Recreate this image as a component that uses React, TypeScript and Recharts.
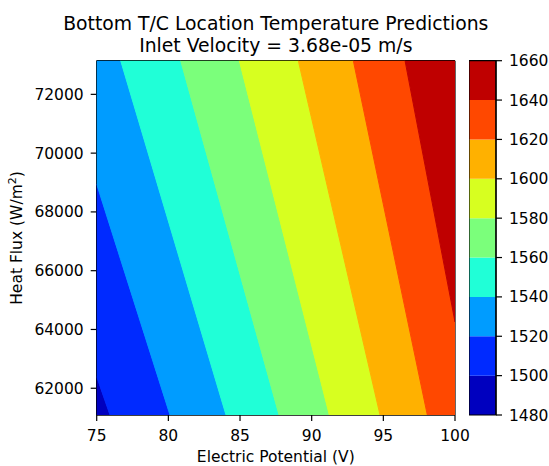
import React from 'react';
import { ScatterChart, Scatter, XAxis, YAxis, ReferenceLine, ReferenceArea } from 'recharts';

// ---- data ----
const xDomain: [number, number] = [75, 100];
const yDomain: [number, number] = [61090, 73145];
const xTicks = [75, 80, 85, 90, 95, 100];
const yTicks = [62000, 64000, 66000, 68000, 70000, 72000];
const levels = [1480, 1500, 1520, 1540, 1560, 1580, 1600, 1620, 1640, 1660];
const bandColors = ['#0000bf', '#002aff', '#009cff', '#20ffd7', '#7bff7b', '#d7ff20', '#ffb100', '#ff4800', '#bf0000'];

// Interior contour lines (levels 1500..1640): where each line enters (left/top edge)
// and where it leaves (bottom/right edge) the plotted region, in data units.
const contourStartX = [75, 75, 76.675, 80.862, 84.951, 89.068, 92.906, 96.514];
const contourStartY = [62395, 68946, 73145, 73145, 73145, 73145, 73145, 73145];
const contourEndX = [75.928, 80.115, 84.023, 87.722, 91.232, 94.77, 98.07, 100];
const contourEndY = [61090, 61090, 61090, 61090, 61090, 61090, 61090, 64258];

const FONT = 'DejaVu Sans, Liberation Sans, sans-serif';

type Pt = { x: number; y: number };

// position along the rectangle perimeter, clockwise from bottom-left corner
function perim(p: Pt): number {
  const [x0, x1] = xDomain;
  const [y0, y1] = yDomain;
  const W = x1 - x0;
  const H = y1 - y0;
  if (p.x === x0 && p.y < y1) return (p.y - y0) / H;
  if (p.y === y1) return 1 + (p.x - x0) / W;
  if (p.x === x1) return 2 + (y1 - p.y) / H;
  return 3 + (x1 - p.x) / W;
}
function corner(k: number): Pt {
  const [x0, x1] = xDomain;
  const [y0, y1] = yDomain;
  const m = ((k % 4) + 4) % 4;
  if (m === 0) return { x: x0, y: y0 };
  if (m === 1) return { x: x0, y: y1 };
  if (m === 2) return { x: x1, y: y1 };
  return { x: x1, y: y0 };
}
function walk(a: number, b: number): Pt[] {
  let end = b;
  if (end < a) end += 4;
  const out: Pt[] = [];
  for (let k = 1; k <= 8; k++) {
    if (k > a && k < end) out.push(corner(k));
  }
  return out;
}
const contourStart = (i: number): Pt => ({ x: contourStartX[i], y: contourStartY[i] });
const contourEnd = (i: number): Pt => ({ x: contourEndX[i], y: contourEndY[i] });

function bandPolygon(i: number): Pt[] {
  const n = contourStartX.length;
  if (i === 0) {
    const hs = contourStart(0), he = contourEnd(0);
    return [hs, he, ...walk(perim(he), perim(hs))];
  }
  if (i === n) {
    const ls = contourStart(n - 1), le = contourEnd(n - 1);
    return [ls, ...walk(perim(ls), perim(le)), le];
  }
  const ls = contourStart(i - 1), le = contourEnd(i - 1);
  const hs = contourStart(i), he = contourEnd(i);
  return [ls, ...walk(perim(ls), perim(hs)), hs, he, ...walk(perim(he), perim(le)), le];
}

const bands = levels.slice(0, -1).map((lo, i) => ({
  lo,
  hi: levels[i + 1],
  color: bandColors[i],
  points: bandPolygon(i),
}));

const colorbarPoints = levels.map((v) => ({ x: 0.5, v }));

const polygonLine = (color: string) => (props: any) => {
  const pts: { x: number; y: number }[] = props.points || [];
  const d = pts.map((p, j) => `${j ? 'L' : 'M'}${p.x},${p.y}`).join('') + 'Z';
  return <path d={d} fill={color} stroke={color} strokeWidth={1} strokeLinejoin="round" />;
};
const noShape = () => <g />;

const tickStyle = { fill: '#000', fontSize: 15.5, fontFamily: FONT };

export default function App() {
  return (
    <div style={{ position: 'absolute', left: 0, top: 0, width: 549, height: 466, background: '#fff' }}>
      <div style={{ position: 'absolute', left: 0, top: 0 }}>
        <ScatterChart width={549} height={466} margin={{ top: 60.7, right: 94, bottom: 21, left: 36.7 }}>
          <XAxis
            type="number"
            dataKey="x"
            domain={xDomain}
            ticks={xTicks}
            allowDataOverflow
            height={30}
            tickSize={6}
            tickMargin={9}
            tick={tickStyle}
            stroke="#000"
            axisLine={{ stroke: '#000', strokeWidth: 1.2 }}
            tickLine={{ stroke: '#000', strokeWidth: 1.2 }}
          />
          <YAxis
            type="number"
            dataKey="y"
            domain={yDomain}
            ticks={yTicks}
            allowDataOverflow
            width={60}
            tickSize={6}
            tickMargin={7}
            tick={tickStyle}
            stroke="#000"
            axisLine={{ stroke: '#000', strokeWidth: 1.2 }}
            tickLine={{ stroke: '#000', strokeWidth: 1.2 }}
          />
          {bands.map((b) => (
            <Scatter
              key={b.lo}
              data={b.points}
              fill={b.color}
              line={polygonLine(b.color)}
              lineType="joint"
              shape={noShape}
              isAnimationActive={false}
            />
          ))}
          <ReferenceLine x={xDomain[1]} stroke="#000" strokeWidth={1.2} ifOverflow="visible" />
          <ReferenceLine y={yDomain[1]} stroke="#000" strokeWidth={1.2} ifOverflow="visible" />
          <ReferenceLine x={xDomain[0]} stroke="#000" strokeWidth={1.2} ifOverflow="visible" />
          <ReferenceLine y={yDomain[0]} stroke="#000" strokeWidth={1.2} ifOverflow="visible" />
        </ScatterChart>
      </div>
      <div style={{ position: 'absolute', left: 469, top: 0 }}>
        <ScatterChart width={80} height={466} margin={{ top: 60.7, right: 0, bottom: 51, left: 0 }}>
          <XAxis type="number" dataKey="x" domain={[0, 1]} hide />
          <YAxis
            type="number"
            dataKey="v"
            orientation="right"
            domain={[levels[0], levels[levels.length - 1]]}
            ticks={levels}
            allowDataOverflow
            width={53}
            tickSize={6}
            tickMargin={7}
            tick={tickStyle}
            stroke="#000"
            axisLine={{ stroke: '#000', strokeWidth: 1.2 }}
            tickLine={{ stroke: '#000', strokeWidth: 1.2 }}
          />
          <Scatter data={colorbarPoints} shape={noShape} isAnimationActive={false} />
          {bands.map((b) => (
            <ReferenceArea key={b.lo} y1={b.lo} y2={b.hi} fill={b.color} fillOpacity={1} stroke="none" ifOverflow="visible" />
          ))}
          <ReferenceArea y1={levels[0]} y2={levels[levels.length - 1]} fill="none" stroke="#000" strokeWidth={1.2} ifOverflow="visible" />
        </ScatterChart>
      </div>
      <svg width={549} height={466} style={{ position: 'absolute', left: 0, top: 0, pointerEvents: 'none' }}>
        <text x={275.8} y={29.5} textAnchor="middle" fontFamily={FONT} fontSize={18.8} fill="#000">
          Bottom T/C Location Temperature Predictions
        </text>
        <text x={275.8} y={52} textAnchor="middle" fontFamily={FONT} fontSize={18.8} fill="#000">
          Inlet Velocity = 3.68e-05 m/s
        </text>
        <text x={275.8} y={462} textAnchor="middle" fontFamily={FONT} fontSize={15.5} fill="#000">
          Electric Potential (V)
        </text>
        <text x={22} y={238} textAnchor="middle" fontFamily={FONT} fontSize={15.5} fill="#000" transform="rotate(-90 22 238)">
          Heat Flux (W/m<tspan fontSize={11} dy={-6}>2</tspan><tspan dy={6}>)</tspan>
        </text>
      </svg>
    </div>
  );
}
